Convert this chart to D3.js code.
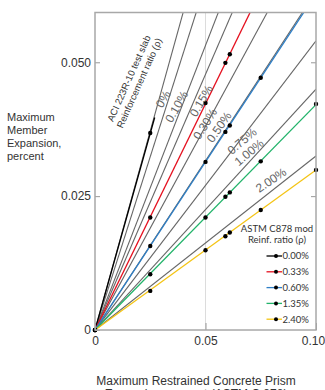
<!DOCTYPE html>
<html lang="en">
<head>
  <meta charset="UTF-8" />
  <title>Member expansion vs restrained prism expansion</title>
  <script src="https://d3js.org/d3.v7.min.js"></script>
  <style>
    body { margin: 0; background: #fff; }
    svg { display: block; font-family: "Liberation Sans", Arial, sans-serif; }
    .tick text { font-size: 12px; fill: #333; }
    .axis-title { font-size: 12px; fill: #333; }
    .aci-label { font-size: 12px; fill: #666; }
    .aci-title { font-size: 9.5px; fill: #333; }
    .legend text { font-family: Lato, "Open Sans", sans-serif; font-size: 9.5px; fill: #333; }
  </style>
</head>
<body>
<svg width="325" height="390"></svg>
<script>
  // ACI 223R-10 test slab lines (slope of member expansion vs prism expansion)
  const aciSlopes = [1.487, 1.295, 1.063, 0.955, 0.761, 0.632, 0.540, 0.450, 0.325];

  // ACI labels: text, centre (x, y in data units), rotation
  const aciLabelText = ["0%", "0.10%", "0.15%", "0.30%", "0.50%", "0.75%", "1.00%", "2.00%"];
  const aciLabelX = [0.0308, 0.0369, 0.0480, 0.0498, 0.0561, 0.0665, 0.0697, 0.0796];
  const aciLabelY = [0.0431, 0.0417, 0.0428, 0.0385, 0.0379, 0.0353, 0.0332, 0.0280];
  const aciLabelAngle = [-60, -60, -60, -58, -55, -40, -40, -34];

  // ASTM C878 mod series
  const astmNames = ["0.00%", "0.33%", "0.60%", "1.35%", "2.40%"];
  const astmColors = ["#000000", "#e5101f", "#2f7fc6", "#22b36a", "#f4c414"];
  const astmSlopes = [1.47, 0.845, 0.628, 0.421, 0.299];
  const astmLineEnd = [0.027, 0.1, 0.1, 0.1, 0.1];
  const astmX = [
    [0, 0.025],
    [0, 0.025, 0.05, 0.059, 0.061],
    [0, 0.025, 0.05, 0.059, 0.061, 0.075],
    [0, 0.025, 0.05, 0.059, 0.061, 0.075, 0.1],
    [0, 0.025, 0.05, 0.059, 0.061, 0.075, 0.1]
  ];
  const astmY = [
    [0, 0.0368],
    [0, 0.0210, 0.0424, 0.0499, 0.0515],
    [0, 0.0157, 0.0314, 0.0370, 0.0382, 0.0471],
    [0, 0.0104, 0.0210, 0.0249, 0.0257, 0.0315, 0.0422],
    [0, 0.0073, 0.0149, 0.0175, 0.0182, 0.0224, 0.0299]
  ];

  const xTicks = [0, 0.05, 0.10];
  const xTickLabels = ["0", "0.05", "0.10"];
  const yTicks = [0, 0.025, 0.05];
  const yTickLabels = ["0", "0.025", "0.050"];

  const svg = d3.select("svg"),
        margin = {top: 12.5, right: 9, bottom: 60, left: 95},
        width = +svg.attr("width") - margin.left - margin.right,
        height = +svg.attr("height") - margin.top - margin.bottom;

  const g = svg.append("g").attr("transform", `translate(${margin.left},${margin.top})`);

  const x = d3.scaleLinear().domain([0, 0.1]).range([0, width]);
  const y = d3.scaleLinear().domain([0, 0.0593]).range([height, 0]);

  g.append("clipPath").attr("id", "plot-clip")
    .append("rect").attr("width", width).attr("height", height);

  // vertical grid line at 0.05
  g.append("line")
    .attr("x1", x(0.05)).attr("x2", x(0.05))
    .attr("y1", 0).attr("y2", height)
    .attr("stroke", "#dcdcdc").attr("stroke-width", 1);

  const plot = g.append("g").attr("clip-path", "url(#plot-clip)");

  // ACI lines
  plot.selectAll(".aci")
    .data(aciSlopes)
    .enter()
    .append("line")
    .attr("class", "aci")
    .attr("x1", x(0)).attr("y1", y(0))
    .attr("x2", x(0.1)).attr("y2", d => y(d * 0.1))
    .attr("stroke", "#666")
    .attr("stroke-width", 1.1);

  // ASTM lines
  plot.selectAll(".astm")
    .data(astmSlopes)
    .enter()
    .append("line")
    .attr("class", "astm")
    .attr("x1", x(0)).attr("y1", y(0))
    .attr("x2", (d, i) => x(astmLineEnd[i]))
    .attr("y2", (d, i) => y(d * astmLineEnd[i]))
    .attr("stroke", (d, i) => astmColors[i])
    .attr("stroke-width", 1.3);

  // ASTM points
  const pts = [];
  astmX.forEach((xs, i) => xs.forEach((v, j) => pts.push({x: v, y: astmY[i][j]})));
  g.selectAll(".dot")
    .data(pts)
    .enter()
    .append("circle")
    .attr("class", "dot")
    .attr("cx", d => x(d.x))
    .attr("cy", d => y(d.y))
    .attr("r", 2.2)
    .attr("fill", "#000");

  // ACI labels
  g.selectAll(".aci-label")
    .data(aciLabelText)
    .enter()
    .append("text")
    .attr("class", "aci-label")
    .attr("text-anchor", "middle")
    .attr("dy", "0.35em")
    .attr("transform", (d, i) => `translate(${x(aciLabelX[i])},${y(aciLabelY[i])}) rotate(${aciLabelAngle[i]})`)
    .text(d => d);

  // ACI caption
  const cap = g.append("text")
    .attr("class", "aci-title")
    .attr("text-anchor", "middle")
    .attr("transform", `translate(${x(0.0175)},${y(0.0466)}) rotate(-66)`);
  cap.append("tspan").attr("x", 0).attr("dy", "-0.2em").text("ACI 223R-10 test slab");
  cap.append("tspan").attr("x", 0).attr("dy", "1.2em").text("Reinforcement ratio (\u03C1)");

  // axes
  g.append("g")
    .attr("transform", `translate(0,${height})`)
    .call(d3.axisBottom(x).tickValues(xTicks).tickSize(-7).tickPadding(6)
      .tickFormat((d, i) => xTickLabels[i]))
    .call(a => a.select(".domain").remove())
    .call(a => a.selectAll("line").attr("stroke", "#999"))
    .call(a => a.selectAll("text").filter((d, i) => i === xTicks.length - 1).attr("dx", "-3"));

  g.append("g")
    .call(d3.axisLeft(y).tickValues(yTicks).tickSize(-5).tickPadding(4)
      .tickFormat((d, i) => yTickLabels[i]))
    .call(a => a.select(".domain").remove())
    .call(a => a.selectAll("line").attr("stroke", "#999"));

  g.append("g")
    .attr("transform", `translate(${width},0)`)
    .call(d3.axisRight(y).tickValues(yTicks.slice(1)).tickSize(-5).tickFormat(""))
    .call(a => a.select(".domain").remove())
    .call(a => a.selectAll("line").attr("stroke", "#999"));

  // frame
  g.append("rect")
    .attr("width", width).attr("height", height)
    .attr("fill", "none")
    .attr("stroke", "#a8a8a8")
    .attr("stroke-width", 1.5);

  // axis titles
  const yTitle = svg.append("text").attr("class", "axis-title").style("font-size", "11px");
  ["Maximum", "Member", "Expansion,", "percent"].forEach((t, i) => {
    yTitle.append("tspan").attr("x", 7).attr("y", 121 + i * 13).text(t);
  });

  svg.append("text")
    .attr("class", "axis-title")
    .attr("text-anchor", "middle")
    .attr("x", 196).attr("y", 385)
    .text("Maximum Restrained Concrete Prism");
  svg.append("text")
    .attr("class", "axis-title")
    .attr("text-anchor", "middle")
    .attr("x", 196).attr("y", 397.5)
    .text("Expansion, percent (ASTM C 878)");

  // legend
  const legend = svg.append("g").attr("class", "legend");
  legend.append("text").attr("x", 277).attr("y", 232).attr("text-anchor", "middle").text("ASTM C878 mod");
  legend.append("text").attr("x", 277).attr("y", 243).attr("text-anchor", "middle").text("Reinf. ratio (\u03C1)");

  astmNames.forEach((name, i) => {
    const ly = 256 + i * 15.8;
    legend.append("line")
      .attr("x1", 266.5).attr("x2", 282)
      .attr("y1", ly).attr("y2", ly)
      .attr("stroke", astmColors[i]).attr("stroke-width", 1.3);
    legend.append("circle")
      .attr("cx", 276).attr("cy", ly).attr("r", 2)
      .attr("fill", "#000");
    legend.append("text")
      .attr("x", 282.5).attr("y", ly).attr("dy", "0.35em")
      .text(name);
  });
</script>
</body>
</html>
